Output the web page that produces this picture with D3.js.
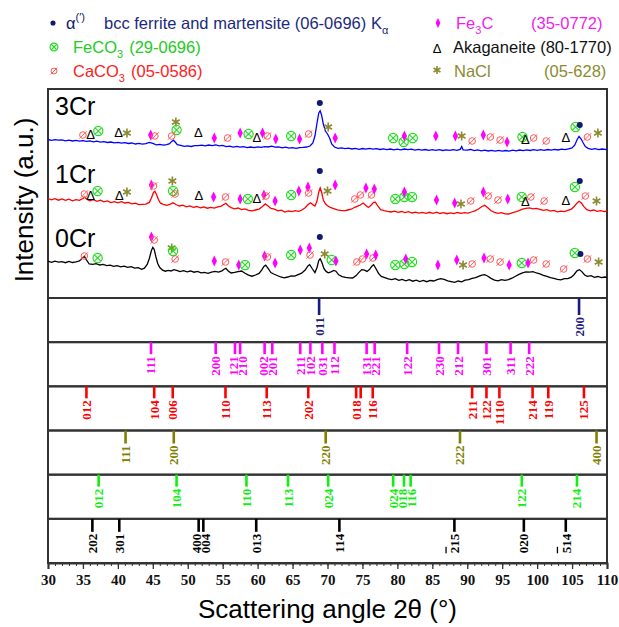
<!DOCTYPE html>
<html lang="en">
<head>
<meta charset="UTF-8">
<script src="https://d3js.org/d3.v7.min.js"></script>
<title>XRD patterns 0Cr / 1Cr / 3Cr</title>
<style>
  body { margin: 0; background: #fff; }
  svg { display: block; font-family: Arial, "Liberation Sans", sans-serif; }
</style>
</head>
<body>
<script>
// measured patterns, [2theta, intensity (a.u., offset included)]
const cr3 = [[30,158.5],[30.5,157.6],[31,158.4],[31.5,157.8],[32,158.1],[32.5,157.2],[33,157.9],[33.5,157.0],[34,157.6],[34.5,156.8],[35,157.4],[35.5,156.6],[36,157.1],[36.5,156.2],[37,156.8],[37.5,155.9],[38,156.4],[38.5,155.5],[39,156.0],[39.5,155.2],[40,155.7],[40.5,154.8],[41,155.3],[41.5,154.5],[42,155.0],[42.5,154.0],[43,154.6],[43.5,153.8],[44,154.4],[44.5,155.6],[45,154.6],[45.5,153.2],[46,153.6],[46.5,152.8],[47,153.4],[47.4,154.4],[47.7,156.6],[47.95,157.8],[48.2,156.0],[48.5,153.4],[49,152.6],[49.5,151.6],[50,152.2],[50.5,151.5],[51,152.3],[51.5,152.4],[52,152.9],[52.5,152.2],[53,153.0],[53.5,152.4],[54,153.1],[54.5,152.2],[55,152.6],[55.5,151.4],[56,151.9],[56.5,150.9],[57,151.6],[57.5,150.8],[58,151.3],[58.5,150.4],[59,151.0],[59.5,150.3],[60,151.2],[60.5,150.6],[61,151.4],[61.5,151.0],[62,151.9],[62.5,150.8],[63,151.2],[63.5,150.2],[64,150.8],[64.5,149.8],[65,150.4],[65.5,149.6],[66,150.3],[66.5,150.6],[67,151.0],[67.5,152.0],[67.9,155],[68.2,162],[68.5,175],[68.75,185],[68.95,187.3],[69.15,183],[69.4,174],[69.7,167],[70.0,164],[70.3,160],[70.6,154],[71.0,151],[71.5,149.6],[72,150.2],[72.5,149.3],[73,149.9],[73.5,149.0],[74,149.6],[74.5,148.7],[75,149.5],[75.5,148.8],[76,149.7],[76.5,148.9],[77,149.4],[77.5,148.5],[78,149.2],[78.5,148.4],[79,149.0],[79.5,148.2],[80,148.9],[80.5,148.1],[81,149.0],[81.5,148.3],[82,148.8],[82.5,147.9],[83,148.6],[83.5,147.8],[84,148.5],[84.5,147.7],[85,148.4],[85.5,147.6],[86,148.3],[86.5,147.5],[87,148.2],[87.5,147.6],[88,148.4],[88.5,147.7],[89,148.6],[89.2,151.5],[89.4,148.2],[90,147.8],[90.5,148.5],[91,147.4],[91.5,148.1],[92,147.2],[92.5,147.9],[93,147.0],[93.5,147.7],[94,146.9],[94.5,147.6],[95,146.8],[95.5,147.5],[96,146.9],[96.5,147.8],[97,147.1],[97.5,148.0],[98,147.3],[98.5,148.2],[99,147.5],[99.5,148.3],[100,147.6],[100.5,148.4],[101,147.7],[101.5,148.5],[102,147.8],[102.5,148.7],[103,148.0],[103.5,148.9],[104,148.3],[104.5,149.2],[105,150.0],[105.4,153],[105.7,158],[106.0,161.7],[106.3,159],[106.6,155],[106.9,151.5],[107.3,149.6],[107.8,148.6],[108.3,149.3],[108.8,148.4],[109.3,149.0],[110,148.3]];

const cr1 = [[30,99.5],[30.5,98.2],[31,99.4],[31.5,97.8],[32,99.0],[32.5,97.6],[33,98.8],[33.5,97.2],[34,98.3],[34.5,97.6],[35,99.5],[35.25,100.8],[35.6,98.6],[36,97.3],[36.5,98.4],[37,96.6],[37.5,97.8],[38,96.2],[38.5,97.1],[39,95.4],[39.5,96.3],[40,95.2],[40.5,96.4],[41,95.0],[41.5,95.6],[42,94.2],[42.5,94.9],[43,93.4],[43.5,93.6],[44,93.8],[44.5,95.6],[44.8,100],[45.1,105.5],[45.3,106.7],[45.5,104],[45.8,98.5],[46.1,94.8],[46.5,93.6],[47,92.6],[47.5,93.9],[47.9,95.2],[48.3,93.5],[48.8,92.0],[49.3,92.9],[49.8,91.2],[50.3,92.1],[50.8,90.6],[51.3,91.5],[51.8,90.2],[52.3,91.0],[52.8,89.8],[53.3,90.7],[53.8,89.9],[54.3,91.2],[54.8,91.9],[55.2,93.8],[55.45,94.6],[55.8,92.2],[56.2,90.4],[56.7,89.2],[57.2,90.0],[57.7,88.4],[58.2,89.1],[58.7,87.6],[59.2,87.1],[59.7,88.0],[60.2,88.9],[60.7,91.5],[61.1,94.1],[61.5,92.0],[61.9,89.6],[62.4,88.9],[62.9,87.2],[63.4,87.9],[63.9,86.0],[64.4,87.0],[64.9,86.3],[65.4,87.4],[65.9,86.7],[66.4,88.2],[66.8,90.3],[67.2,93.2],[67.55,95.2],[67.9,93.4],[68.2,92.0],[68.5,97],[68.75,106],[68.95,110],[69.15,106],[69.4,98],[69.7,94.2],[70.0,92.3],[70.4,90.7],[70.9,89.4],[71.4,88.1],[71.9,87.6],[72.4,87.2],[72.9,88.0],[73.4,88.8],[73.9,90.7],[74.3,91.8],[74.7,93.0],[75.1,95.0],[75.5,92.6],[75.85,90.6],[76.2,92.5],[76.6,95.6],[76.85,95.9],[77.2,92],[77.6,88.3],[78.1,87.4],[78.6,86.6],[79.1,86.0],[79.6,86.9],[80.1,85.6],[80.6,86.5],[81.1,85.4],[81.6,86.3],[82.1,85.0],[82.6,85.9],[83.1,84.8],[83.6,85.6],[84.1,84.6],[84.6,85.7],[85.1,84.7],[85.6,85.8],[86.1,84.5],[86.6,85.4],[87.1,84.3],[87.6,85.2],[88.1,84.4],[88.6,85.5],[89.1,84.6],[89.6,85.3],[90.1,84.9],[90.6,86.0],[91.1,87.1],[91.6,89.0],[92.1,91.5],[92.5,92.7],[92.9,90.5],[93.4,87.2],[93.9,85.6],[94.4,84.7],[94.9,85.4],[95.4,84.1],[95.9,84.0],[96.4,85.2],[96.9,86.0],[97.4,87.4],[97.9,88.9],[98.4,89.6],[98.9,90.1],[99.4,89.2],[99.9,89.6],[100.4,88.7],[100.9,87.6],[101.4,88.3],[101.9,86.9],[102.4,87.6],[102.9,86.2],[103.4,86.9],[103.9,86.4],[104.4,87.6],[104.9,88.8],[105.3,91.5],[105.7,94.8],[106.0,96.7],[106.3,95.2],[106.7,91.4],[107.1,88.4],[107.6,87.2],[108.1,88.0],[108.6,86.6],[109.1,87.4],[109.6,86.4],[110,87.0]];

const cr0 = [[30,36.8],[30.5,35.6],[31,36.9],[31.5,35.9],[32,36.4],[32.5,35.3],[33,36.6],[33.5,35.5],[34,36.2],[34.5,37.0],[34.9,39.8],[35.2,41.7],[35.5,38.2],[35.9,34.0],[36.4,33.6],[36.9,34.4],[37.4,33.0],[37.9,33.7],[38.4,32.4],[38.9,32.9],[39.4,31.6],[39.9,32.4],[40.4,31.2],[40.9,31.8],[41.4,30.6],[41.9,31.3],[42.4,29.8],[42.9,30.4],[43.4,28.6],[43.8,29.8],[44.2,33.5],[44.5,39.5],[44.8,47.5],[45.0,50.7],[45.2,48.5],[45.45,41],[45.7,34.5],[46.0,30.4],[46.4,27.8],[46.8,26.8],[47.2,27.6],[47.6,27.0],[48.0,28.4],[48.4,27.6],[48.9,26.4],[49.4,27.3],[49.9,26.2],[50.4,27.0],[50.9,25.8],[51.4,26.6],[51.9,25.2],[52.4,25.6],[52.9,24.7],[53.4,25.8],[53.9,26.6],[54.4,25.9],[54.9,27.2],[55.2,28.8],[55.45,29.6],[55.8,27.1],[56.2,25.0],[56.7,25.6],[57.2,26.4],[57.7,27.0],[58.2,24.8],[58.7,22.9],[59.2,21.8],[59.7,23.0],[60.2,24.6],[60.6,28.2],[60.9,31.6],[61.15,32.8],[61.5,29.6],[61.9,25.4],[62.3,24.0],[62.8,22.5],[63.3,21.0],[63.8,20.2],[64.3,21.0],[64.8,22.1],[65.3,21.8],[65.8,23.3],[66.3,24.8],[66.8,28.0],[67.2,32.0],[67.45,33.4],[67.8,29.5],[68.2,25.4],[68.5,30.5],[68.75,37.5],[68.95,39.3],[69.2,35.5],[69.5,29.4],[69.8,26.6],[70.1,25.2],[70.5,26.2],[70.9,27.6],[71.2,26.8],[71.6,23.2],[72.1,21.4],[72.6,20.6],[73.1,20.2],[73.6,20.0],[74.1,22.4],[74.5,25.6],[74.9,28.4],[75.3,27.8],[75.65,26.6],[76.0,28.4],[76.35,31.8],[76.6,33.3],[76.9,29.8],[77.3,24.6],[77.7,21.6],[78.2,20.4],[78.7,19.2],[79.2,18.4],[79.7,19.3],[80.2,17.6],[80.7,18.6],[81.2,17.2],[81.7,18.4],[82.2,16.8],[82.7,17.9],[83.2,16.5],[83.7,17.6],[84.2,16.3],[84.7,17.5],[85.2,17.0],[85.7,18.4],[86.2,19.4],[86.7,18.6],[87.2,17.1],[87.7,16.4],[88.2,15.6],[88.7,17.0],[89.2,16.2],[89.7,17.9],[90.2,18.4],[90.7,19.6],[91.2,20.4],[91.7,21.8],[92.1,22.9],[92.5,23.4],[92.9,22.0],[93.4,19.6],[93.9,17.8],[94.4,17.2],[94.9,18.4],[95.4,17.6],[95.9,18.3],[96.4,19.8],[96.9,21.7],[97.4,23.6],[97.9,25.2],[98.4,26.2],[98.9,25.8],[99.4,26.4],[99.9,25.0],[100.4,24.2],[100.9,22.6],[101.4,21.6],[101.9,20.4],[102.4,19.6],[102.9,18.6],[103.4,18.2],[103.9,19.4],[104.4,19.3],[104.9,20.8],[105.3,23.5],[105.7,27.2],[106.05,28.3],[106.4,26.4],[106.8,23.0],[107.2,21.6],[107.7,22.4],[108.2,20.6],[108.7,21.5],[109.2,20.3],[109.7,21.0],[110,20.5]];

// phase marks above the peaks [symbol, 2theta, height]
// a = alpha, f = FeCO3, c = CaCO3, m = Fe3C, k = akaganeite, n = NaCl
const cr3Marks = [["c",35.0,163],["k",36.1,164],["f",37.2,167],["k",40.1,166],["n",41.3,165],["m",44.7,163],["c",45.3,162],["n",48.3,176],["f",48.4,168],["c",47.7,162],["k",51.5,166],["m",53.8,160],["c",55.7,160],["m",57.5,165],["f",58.7,164],["k",59.9,161],["m",60.7,165],["c",61.4,162],["m",62.6,159],["f",64.8,162],["m",66.0,159],["c",67.3,164],["a",68.9,195],["n",70.1,171],["m",71.1,160],["f",79.4,160],["f",80.9,156],["m",81.0,162],["f",82.2,160],["m",85.5,162],["m",88.3,162],["n",89.2,162],["c",90.7,157],["m",92.3,163],["c",93.3,161],["c",94.7,158],["m",95.7,156],["f",97.9,161],["k",98.3,159],["c",99.5,160],["c",101.3,157],["k",104.1,161],["f",105.5,171],["a",106.1,173],["c",107.2,161],["n",108.7,165]];

const cr1Marks = [["c",35.2,104],["k",36.1,103],["f",37.1,107],["k",40.2,103],["n",41.3,106],["m",44.8,113],["c",45.1,112],["n",47.8,117],["f",47.9,107],["c",48.2,104],["k",51.6,103],["m",53.7,101],["c",55.4,101],["m",57.5,99],["f",58.6,99],["k",59.9,100],["m",60.9,103],["c",61.2,102],["m",62.5,97],["f",64.8,103],["m",65.9,107],["m",67.2,111],["c",67.3,105],["a",68.9,127],["n",70.0,107],["m",71.1,113],["c",73.9,99],["c",74.7,103],["m",75.5,110],["c",76.3,103],["m",76.7,109],["f",79.7,99],["f",81.0,101],["m",81.0,106],["f",82.1,101],["m",85.6,98],["m",88.2,95],["n",89.1,94],["c",90.5,97],["m",92.3,106],["c",93.0,102],["c",94.4,98],["m",95.8,99],["f",97.8,101],["k",98.3,97],["c",99.1,101],["c",101.0,97],["k",104.1,98],["f",105.4,111],["a",106.1,117],["c",106.9,102],["n",108.5,97]];

const cr0Marks = [["c",35.2,42],["f",37.1,40],["m",44.8,61],["c",45.2,58],["n",47.7,50],["f",47.9,47],["c",48.2,39],["m",53.8,37],["c",55.4,36],["m",57.3,33],["f",58.2,33],["m",61.0,42],["c",61.4,41],["m",62.5,35],["f",64.8,43],["m",66.1,48],["m",67.4,50],["c",67.5,43],["a",68.9,61],["n",69.6,44],["f",70.6,38],["m",71.2,37],["c",74.2,36],["c",75.0,39],["m",75.6,44],["c",76.5,40],["m",76.9,43],["f",79.7,33],["f",81.0,34],["m",81.2,39],["f",82.1,36],["m",85.8,33],["m",88.5,38],["n",89.4,33],["c",90.7,34],["m",92.4,40],["c",93.3,39],["c",94.7,36],["m",96.0,33],["f",97.8,35],["m",98.7,35],["c",99.5,38],["c",101.3,34],["c",103.8,29],["f",105.4,45],["a",106.2,44],["c",107.2,39],["n",108.8,36]];

// reference cards [hkl, 2theta]; a leading "-" puts a bar over the next digit
const alphaRef = [["011",68.8],["200",106.0]];
const fe3cRef = [["111",44.74],["200",54.0],["121",56.76],["210",57.5],["002",61.0],["201",62.1],["211",66.1],["102",67.55],["031",69.26],["112",71.0],["131",75.6],["221",76.75],["122",81.4],["230",85.96],["212",88.68],["301",92.75],["311",96.2],["222",98.86]];
const caco3Ref = [["012",35.5],["104",45.2],["006",47.85],["110",55.4],["113",61.3],["202",67.25],["018",74.1],["",74.75],["116",76.47],["211",90.7],["122",92.75],["1110",94.6],["214",99.35],["119",101.6],["125",106.7]];
const naclRef = [["111",41.1],["200",48.0],["220",69.74],["222",88.96],["400",108.5]];
const feco3Ref = [["012",37.25],["104",48.4],["110",58.4],["113",64.35],["024",70.1],["024",79.4],["018",80.95],["116",81.9],["122",97.8],["214",105.7]];
const akagRef = [["202",36.35],["301",40.2],["400",51.56],["004",52.23],["013",59.8],["114",71.7],["-215",88.16],["020",98.1],["-514",104.1]];

const sampleNames = ["3Cr", "1Cr", "0Cr"];
const tickLabels = [30,35,40,45,50,55,60,65,70,75,80,85,90,95,100,105,110];

// ---------------------------------------------------------------
const W = 619, H = 627;
const left = 48, right = 607, specTop = 89, specBottom = 298, axisY = 563;

const col = {
  a: "#0d1a6e", f: "#22dd22", c: "#ff5a5a", m: "#ff00ff", k: "#000000", n: "#8c8a30"
};

const svg = d3.select("body").append("svg").attr("width", W).attr("height", H);

const x = d3.scaleLinear().domain([30, 110]).range([left, right]);
const y = d3.scaleLinear().domain([0, 209]).range([specBottom, specTop]);

function mark(g, s, cx, cy, k) {
  k = k || 1;
  if (s === "a") {
    g.append("circle").attr("cx", cx).attr("cy", cy).attr("r", 3 * k).attr("fill", col.a);
  } else if (s === "f") {
    const r = 4.6 * k, d = r * 0.7;
    g.append("circle").attr("cx", cx).attr("cy", cy).attr("r", r)
      .attr("fill", "none").attr("stroke", col.f).attr("stroke-width", 1.2);
    g.append("path").attr("d", `M${cx - d},${cy - d}L${cx + d},${cy + d}M${cx - d},${cy + d}L${cx + d},${cy - d}`)
      .attr("stroke", col.f).attr("stroke-width", 1.1);
  } else if (s === "c") {
    const r = 3.3 * k;
    g.append("circle").attr("cx", cx).attr("cy", cy).attr("r", r)
      .attr("fill", "none").attr("stroke", col.c).attr("stroke-width", 1);
    g.append("path").attr("d", `M${cx - r * 1.1},${cy + r * 1.1}L${cx + r * 1.1},${cy - r * 1.1}`)
      .attr("stroke", col.c).attr("stroke-width", 1);
  } else if (s === "m") {
    g.append("path").attr("d", d3.symbol(d3.symbolDiamond, 34 * k * k)())
      .attr("transform", `translate(${cx},${cy}) scale(0.85,1)`).attr("fill", col.m);
  } else if (s === "k") {
    g.append("text").attr("x", cx).attr("y", cy).attr("text-anchor", "middle")
      .attr("dominant-baseline", "central").attr("font-size", 13 * k).text("\u0394");
  } else if (s === "n") {
    g.append("path").attr("d", d3.symbol(d3.symbolAsterisk, 55 * k * k)())
      .attr("transform", `translate(${cx},${cy})`)
      .attr("fill", "none").attr("stroke", col.n).attr("stroke-width", 1.6);
  }
}

// legend
const lg = svg.append("g").attr("font-size", 16.5);
mark(lg, "a", 53, 23, 0.85);
lg.append("text").attr("x", 66).attr("y", 29).attr("fill", col.a)
  .html('\u03b1<tspan font-size="11" dy="-8">(\u2032)</tspan>');
lg.append("text").attr("x", 104).attr("y", 29).attr("fill", "#1c2a7c")
  .html('bcc ferrite and martensite (06-0696) K<tspan font-size="11" dy="5">\u03b1</tspan>');
mark(lg, "m", 438, 23, 0.9);
lg.append("text").attr("x", 456).attr("y", 29).attr("fill", "#ee22ee")
  .html('Fe<tspan font-size="11" dy="5">3</tspan><tspan dy="-5">C</tspan>');
lg.append("text").attr("x", 531).attr("y", 29).attr("fill", "#ee22ee").text("(35-0772)");

mark(lg, "f", 54, 47, 0.85);
lg.append("text").attr("x", 73).attr("y", 53).attr("fill", "#22cc22")
  .html('FeCO<tspan font-size="11" dy="5">3</tspan><tspan dy="-5" dx="6">(29-0696)</tspan>');
mark(lg, "k", 437, 48, 1);
lg.append("text").attr("x", 453).attr("y", 53).attr("fill", "#111").text("Akaganeite (80-1770)");

mark(lg, "c", 54, 71, 0.9);
lg.append("text").attr("x", 73).attr("y", 77).attr("fill", "#ff2020")
  .html('CaCO<tspan font-size="11" dy="5">3</tspan><tspan dy="-5" dx="6">(05-0586)</tspan>');
mark(lg, "n", 437, 70, 0.9);
lg.append("text").attr("x", 454).attr("y", 77).attr("fill", "#8c8a30").text("NaCl");
lg.append("text").attr("x", 544).attr("y", 77).attr("fill", "#8c8a30").text("(05-628)");

// spectra panel
svg.append("rect").attr("x", left).attr("y", specTop).attr("width", right - left)
  .attr("height", specBottom - specTop).attr("fill", "none").attr("stroke", "#333").attr("stroke-width", 2);

const line = d3.line().x(d => x(d[0])).y(d => y(d[1]));
const series = [
  { data: cr3, marks: cr3Marks, color: "#0000ff" },
  { data: cr1, marks: cr1Marks, color: "#ff0000" },
  { data: cr0, marks: cr0Marks, color: "#000000" }
];
series.forEach(s => {
  svg.append("path").datum(s.data).attr("d", line)
    .attr("fill", "none").attr("stroke", s.color).attr("stroke-width", 1.3);
  const mg = svg.append("g");
  s.marks.forEach(m => mark(mg, m[0], x(m[1]), y(m[2])));
});

const labelY = [115, 183, 247];
sampleNames.forEach((n, i) => {
  svg.append("text").attr("x", 55).attr("y", labelY[i]).attr("font-size", 25).text(n);
});

// reference stick panels
const refs = [
  { data: alphaRef, color: "#1a1a80", len: 17 },
  { data: fe3cRef, color: "#ff00ff", len: 12 },
  { data: caco3Ref, color: "#ff0000", len: 12 },
  { data: naclRef, color: "#808000", len: 13 },
  { data: feco3Ref, color: "#11ee11", len: 12 },
  { data: akagRef, color: "#000000", len: 13 }
];
const band = d3.scaleBand().domain(d3.range(refs.length)).range([specBottom, axisY]);

// spread labels of sticks that sit too close together
function labelPositions(data) {
  const items = data.filter(d => d[0] !== "").map(d => ({ d: d, px: x(d[1]) }));
  const gap = 9;
  let groups = [], cur = [items[0]];
  for (let i = 1; i < items.length; i++) {
    if (items[i].px - items[i - 1].px < gap) cur.push(items[i]);
    else { groups.push(cur); cur = [items[i]]; }
  }
  groups.push(cur);
  groups.forEach(g => {
    const c = d3.mean(g, o => o.px);
    g.forEach((o, j) => { o.lx = c + (j - (g.length - 1) / 2) * gap; });
  });
  return items;
}

refs.forEach((r, i) => {
  const top = band(i);
  const g = svg.append("g");
  g.append("rect").attr("x", left).attr("y", top).attr("width", right - left)
    .attr("height", band.bandwidth()).attr("fill", "none").attr("stroke", "#333").attr("stroke-width", 2);
  g.selectAll("line").data(r.data).join("line")
    .attr("x1", d => x(d[1])).attr("x2", d => x(d[1]))
    .attr("y1", top).attr("y2", top + r.len)
    .attr("stroke", r.color).attr("stroke-width", 2.6);
  const labs = g.selectAll("text").data(labelPositions(r.data)).join("text")
    .attr("transform", o => `translate(${o.lx},${top + r.len + 2}) rotate(-90)`)
    .attr("text-anchor", "end").attr("dominant-baseline", "central")
    .attr("font-family", "'Liberation Serif', 'Times New Roman', serif")
    .attr("font-weight", "bold").attr("font-size", 13)
    .attr("fill", r.color);
  labs.each(function (o) {
    const t = d3.select(this), s = o.d[0];
    if (s[0] === "-") {
      t.append("tspan").style("text-decoration", "overline").text(s[1]);
      t.append("tspan").text(s.slice(2));
    } else {
      t.text(s);
    }
  });
});

// x axis
const minor = svg.append("g").attr("transform", `translate(0,${axisY})`)
  .call(d3.axisBottom(x).tickValues(d3.range(30, 111, 1)).tickSize(3).tickFormat(""));
minor.select(".domain").remove();
minor.selectAll("line").attr("stroke", "#333");
const major = svg.append("g").attr("transform", `translate(0,${axisY})`)
  .call(d3.axisBottom(x).tickValues(tickLabels).tickSize(6).tickPadding(5).tickFormat(d3.format("d")));
major.select(".domain").attr("stroke", "#333").attr("stroke-width", 2);
major.selectAll("line").attr("stroke", "#333").attr("stroke-width", 1.3);
major.selectAll("text").attr("font-family", "'Liberation Serif', 'Times New Roman', serif")
  .attr("font-weight", "bold").attr("font-size", 15).attr("fill", "#111");

// axis titles
svg.append("text").attr("x", (left + right) / 2).attr("y", 618).attr("text-anchor", "middle")
  .attr("font-size", 26).text("Scattering angle 2\u03b8 (\u00b0)");
svg.append("text").attr("transform", "translate(33,200) rotate(-90)").attr("text-anchor", "middle")
  .attr("font-size", 26).text("Intensity (a.u.)");
</script>
</body>
</html>
